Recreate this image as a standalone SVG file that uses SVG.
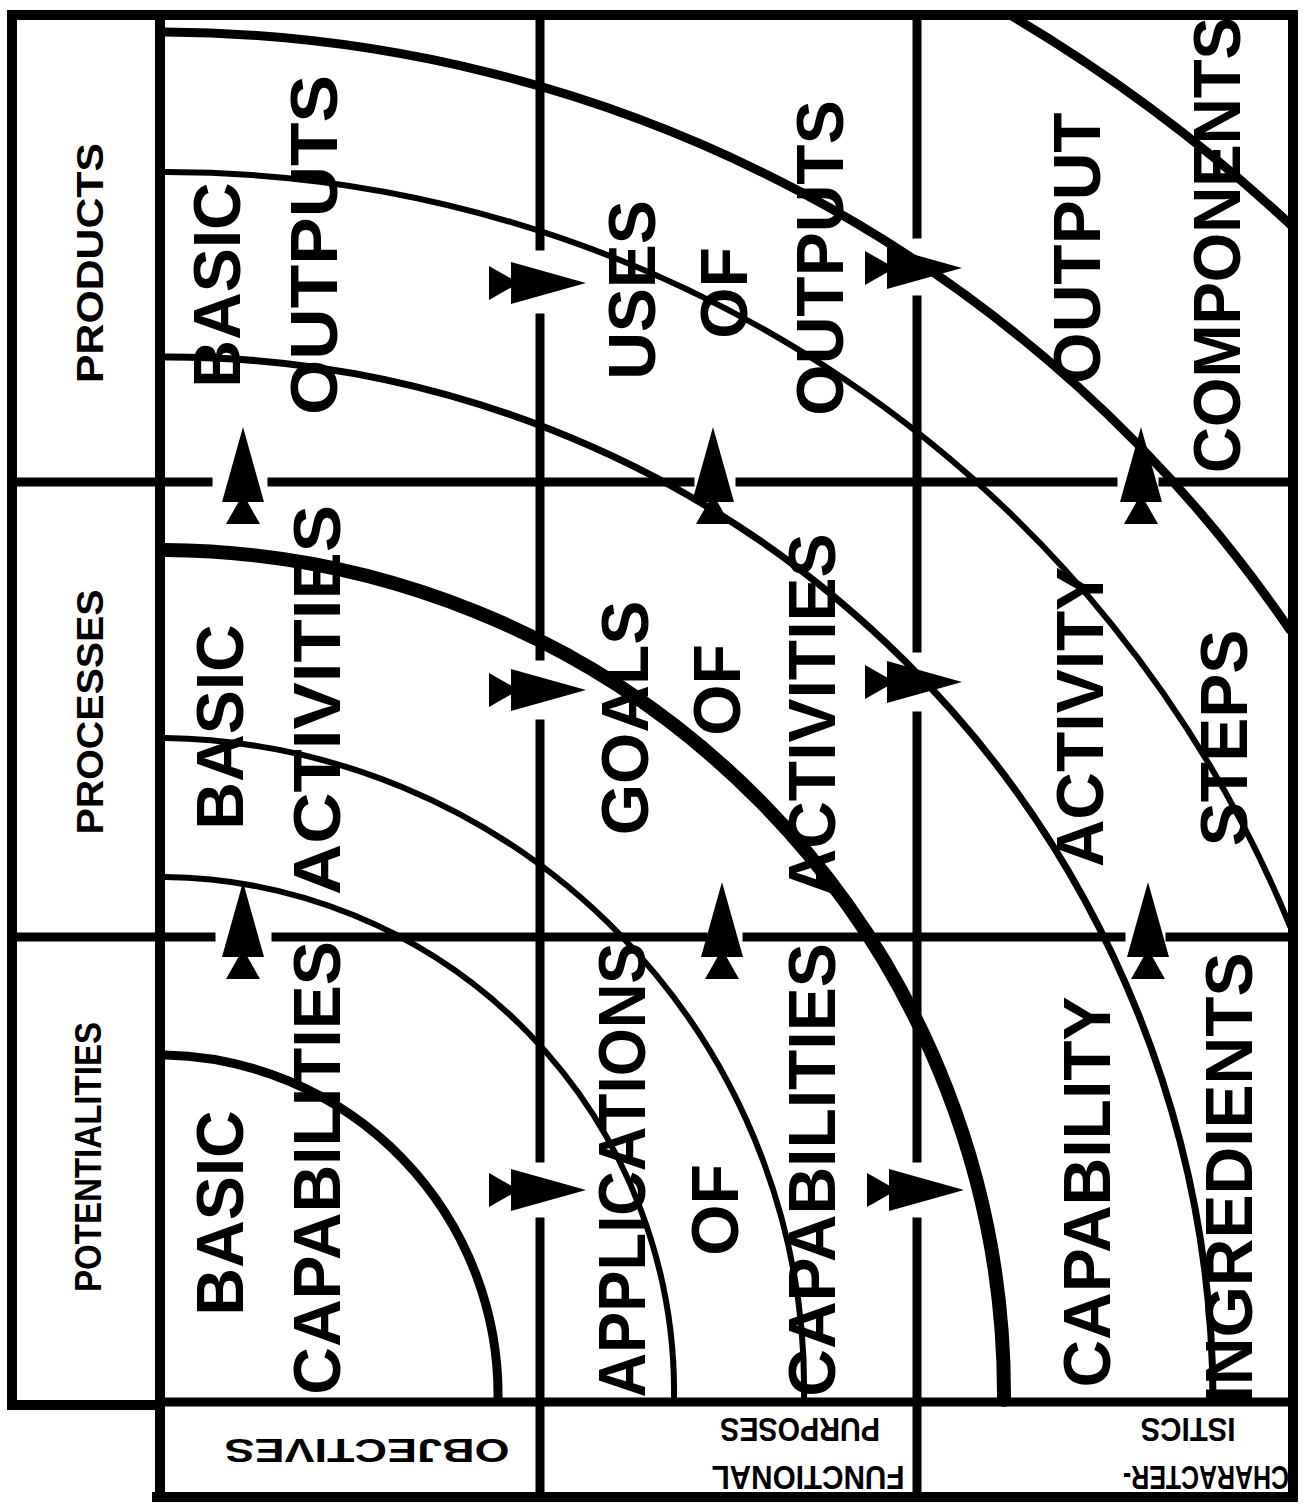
<svg xmlns="http://www.w3.org/2000/svg" width="1308" height="1509" viewBox="0 0 1308 1509">
<defs>
<style>
.ln{stroke:#000;fill:none;stroke-linecap:square}
.g{stroke-width:9}
.fr{stroke-width:10}
.arc{stroke:#000;fill:none;stroke-linecap:round}
.big{font-family:"Liberation Sans",Arial,sans-serif;font-weight:bold;font-size:66px;fill:#000;text-anchor:middle}
.hd{font-family:"Liberation Sans",Arial,sans-serif;font-weight:bold;font-size:36px;fill:#000;text-anchor:middle}
.bt{font-family:"Liberation Sans",Arial,sans-serif;font-weight:bold;font-size:33px;fill:#000;text-anchor:middle}
</style>
<g id="arrow">
<path d="M0,-55 L21,20 L-21,20 Z" fill="#000"/>
<path d="M0,12 L17,42 L-17,42 Z" fill="#000"/>
</g>
</defs>
<rect width="1308" height="1509" fill="#fff"/>

<g id="frame">
<path class="ln fr" d="M12,15 H1293 M12,15 V1405 M12,1405 H160 M160,15 V1497 M1293,15 V1497 M157,1497 H1293"/>
<path class="ln g" d="M160,1402 H1293"/>
<path class="ln g" d="M12,482 H208 M272,482 H690 M740,482 H1113 M1163,482 H1293"/>
<path class="ln g" d="M12,937 H211 M276,937 H703 M747,937 H1121 M1170,937 H1293"/>
<path class="ln g" d="M540,15 V246 M540,318 V656 M540,724 V1158 M540,1222 V1497"/>
<path class="ln g" d="M917,15 V234 M917,300 V648 M917,716 V1158 M917,1222 V1497"/>
</g>

<g id="connectors">
<path class="arc" stroke-width="9" d="M165,1055 A340 340 0 0 1 498,1400"/>
<path class="arc" stroke-width="6" d="M165,877 A515 515 0 0 1 674,1400"/>
<path class="arc" stroke-width="6" d="M165,738 A650 650 0 0 1 804,1400"/>
<path class="arc" stroke-width="14" d="M165,550 A845 845 0 0 1 1004,1400"/>
<path class="arc" stroke-width="7" d="M165,357 A1045 1045 0 0 1 1213,1400"/>
<path class="arc" stroke-width="6" d="M165,172 A1215 1215 0 0 1 1290,926"/>
<path class="arc" stroke-width="9" d="M165,32 A1370 1370 0 0 1 1290,630"/>
<path class="arc" stroke-width="9" d="M1010,15 A1625 1625 0 0 1 1293,227"/>
</g>

<g id="arrows">
<use href="#arrow" transform="translate(243,482)"/>
<use href="#arrow" transform="translate(713,482)"/>
<use href="#arrow" transform="translate(1141,482)"/>
<use href="#arrow" transform="translate(243,937)"/>
<use href="#arrow" transform="translate(722,937)"/>
<use href="#arrow" transform="translate(1148,937)"/>
<use href="#arrow" transform="translate(531,283) rotate(90)"/>
<use href="#arrow" transform="translate(531,690) rotate(90)"/>
<use href="#arrow" transform="translate(531,1190) rotate(90)"/>
<use href="#arrow" transform="translate(907,268) rotate(90)"/>
<use href="#arrow" transform="translate(907,682) rotate(90)"/>
<use href="#arrow" transform="translate(909,1190) rotate(90)"/>
</g>

<g id="header-products"><text class="hd" transform="translate(103,263) rotate(-90)" textLength="240" lengthAdjust="spacingAndGlyphs">PRODUCTS</text></g>
<g id="header-processes"><text class="hd" transform="translate(103,712) rotate(-90)" textLength="245" lengthAdjust="spacingAndGlyphs">PROCESSES</text></g>
<g id="header-potentialities"><text class="hd" transform="translate(101,1157) rotate(-90)" textLength="270" lengthAdjust="spacingAndGlyphs">POTENTIALITIES</text></g>

<g id="cell-basic-outputs">
<text class="big" transform="translate(240,285) rotate(-90)">BASIC</text>
<text class="big" transform="translate(337,245) rotate(-90)" textLength="340" lengthAdjust="spacingAndGlyphs">OUTPUTS</text>
</g>
<g id="cell-basic-activities">
<text class="big" transform="translate(243,727) rotate(-90)">BASIC</text>
<text class="big" transform="translate(340,700) rotate(-90)" textLength="390" lengthAdjust="spacingAndGlyphs">ACTIVITIES</text>
</g>
<g id="cell-basic-capabilities">
<text class="big" transform="translate(243,1213) rotate(-90)">BASIC</text>
<text class="big" transform="translate(340,1168) rotate(-90)">CAPABILITIES</text>
</g>
<g id="cell-uses-of-outputs">
<text class="big" transform="translate(655,290) rotate(-90)">USES</text>
<text class="big" transform="translate(747,293) rotate(-90)">OF</text>
<text class="big" transform="translate(843,258) rotate(-90)">OUTPUTS</text>
</g>
<g id="cell-goals-of-activities">
<text class="big" transform="translate(648,718) rotate(-90)">GOALS</text>
<text class="big" transform="translate(740,690) rotate(-90)">OF</text>
<text class="big" transform="translate(835,715) rotate(-90)">ACTIVITIES</text>
</g>
<g id="cell-applications-of-capabilities">
<text class="big" transform="translate(645,1170) rotate(-90)" textLength="455" lengthAdjust="spacingAndGlyphs">APPLICATIONS</text>
<text class="big" transform="translate(738,1210) rotate(-90)">OF</text>
<text class="big" transform="translate(835,1170) rotate(-90)">CAPABILITIES</text>
</g>
<g id="cell-output-components">
<text class="big" transform="translate(1100,248) rotate(-90)">OUTPUT</text>
<text class="big" transform="translate(1240,245) rotate(-90)" textLength="456" lengthAdjust="spacingAndGlyphs">COMPONENTS</text>
</g>
<g id="cell-activity-steps">
<text class="big" transform="translate(1103,717) rotate(-90)">ACTIVITY</text>
<text class="big" transform="translate(1247,738) rotate(-90)">STEPS</text>
</g>
<g id="cell-capability-ingredients">
<text class="big" transform="translate(1110,1192) rotate(-90)">CAPABILITY</text>
<text class="big" transform="translate(1252,1178) rotate(-90)">INGREDIENTS</text>
</g>

<g id="footer-objectives"><text class="bt" transform="translate(367,1439) rotate(180)" textLength="285" lengthAdjust="spacingAndGlyphs">OBJECTIVES</text></g>
<g id="footer-functional-purposes">
<text class="bt" transform="translate(808,1466) rotate(180)" textLength="193" lengthAdjust="spacingAndGlyphs">FUNCTIONAL</text>
<text class="bt" transform="translate(800,1418) rotate(180)" textLength="160" lengthAdjust="spacingAndGlyphs">PURPOSES</text>
</g>
<g id="footer-characteristics">
<text class="bt" transform="translate(1206,1466) rotate(180)" textLength="166" lengthAdjust="spacingAndGlyphs">CHARACTER-</text>
<text class="bt" transform="translate(1188,1418) rotate(180)" textLength="95" lengthAdjust="spacingAndGlyphs">ISTICS</text>
</g>
</svg>
